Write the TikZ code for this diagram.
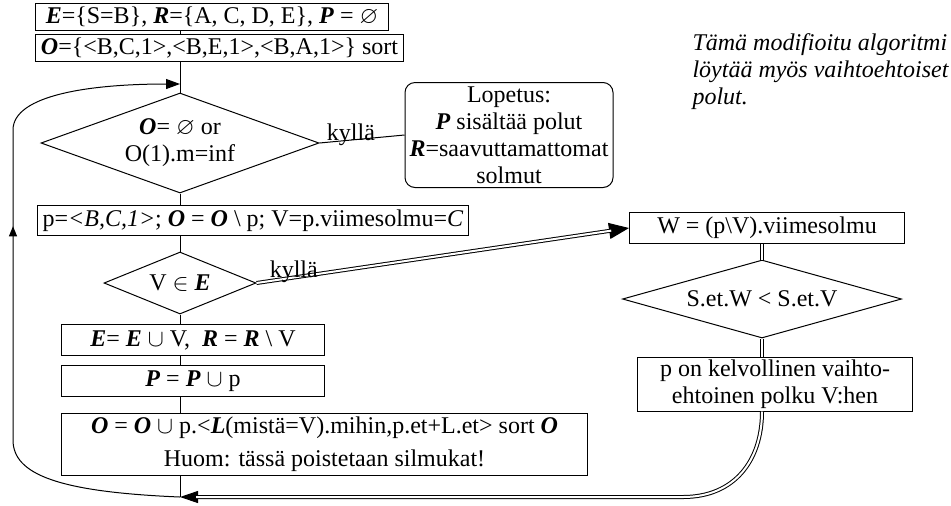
\documentclass[tikz,border=0pt]{standalone}
\usepackage{fontspec}
\usepackage{amssymb}
\setmainfont{Liberation Serif}
\usetikzlibrary{shapes.geometric, arrows.meta, positioning, calc, decorations.markings}
\newcommand{\bfit}[1]{\textbf{\textit{#1}}}

\begin{document}
\begin{tikzpicture}[x=0.5pt, y=-0.5pt, line width=0.5pt,
      font=\fontsize{12}{13.5}\selectfont,
      stepbox/.style={draw, inner sep=0pt, align=center, minimum height=13.5pt},
      choice/.style={draw, diamond, inner sep=0pt, align=center},
      dline/.style={double, double distance=1pt}]
    \useasboundingbox (0,0) rectangle (951,505);
    \coordinate (trunk) at (180,0);
    \coordinate (rtrunk) at (762,0);

    \node[stepbox, anchor=north west, minimum width=176.5pt] (ini) at (35,3)
      {\bfit{E}=\{S=B\}, \bfit{R}=\{A, C, D, E\}, \bfit{P} = $\varnothing$};
    \node[stepbox, minimum width=184pt, below=1.5pt of ini.south west, anchor=north west] (open)
      {\bfit{O}=\{<B,C,1>,<B,E,1>,<B,A,1>\} sort};
    \node[choice, aspect=2.78, minimum width=139pt, minimum height=50pt] (test1) at (180,143)
      {\bfit{O}= $\varnothing$ or\\O(1).m=inf};
    \node[stepbox, rounded corners=5pt, minimum width=104pt, minimum height=52.5pt] (stop) at (509,135)
      {Lopetus:\\\bfit{P} sisältää polut\\\bfit{R}=saavuttamattomat\\solmut};
    \node[stepbox, anchor=north west, minimum width=215.5pt, minimum height=15pt] (pick) at (37,205)
      {p=\textit{<B,C,1>}; \bfit{O} = \bfit{O} \textbackslash{} p; V=p.viimesolmu=\textit{C}};
    \node[choice, aspect=2.45, minimum width=76pt, minimum height=31pt] (test2) at (180,283)
      {V $\in$ \bfit{E}};
    \node[stepbox, anchor=north west, minimum width=131.5pt, minimum height=15.5pt] (addE) at (61,324)
      {\bfit{E}= \bfit{E} $\cup$ V,\ \ \bfit{R} = \bfit{R} \textbackslash{} V};
    \node[stepbox, minimum width=131.5pt, minimum height=15.5pt, below=4.5pt of addE.south west, anchor=north west] (addP)
      {\bfit{P} = \bfit{P} $\cup$ p};
    \node[stepbox, anchor=north west, minimum width=263pt, minimum height=31pt] (expand) at (61,413)
      {\bfit{O} = \bfit{O} $\cup$ p.<\bfit{L}(mistä=V).mihin,p.et+L.et> sort \bfit{O}\\[3pt]Huom: tässä poistetaan silmukat!};

    \node[stepbox, minimum width=137.5pt, minimum height=15.5pt] (last) at (767,228)
      {W = (p\textbackslash V).viimesolmu};
    \node[choice, aspect=3.58, minimum width=139.5pt, minimum height=39pt] (test3) at (762,299)
      {S.et.W < S.et.V};
    \node[stepbox, minimum width=137.5pt, minimum height=27pt] (valid) at (775,384)
      {p on kelvollinen vaihto-\\ehtoinen polku V:hen};
    \node[anchor=north west, inner sep=0pt, align=left, font=\fontsize{12}{13.5}\selectfont\itshape] (note) at (692,33)
      {Tämä modifioitu algoritmi\\löytää myös vaihtoehtoiset\\polut.};

    \coordinate (back) at (180,497);
    \coordinate (loopin) at (180,84);
    \draw (trunk |- ini.south) -- (trunk |- open.north);
    \draw (trunk |- open.south) -- (test1.north);
    \draw (test1.south) -- (trunk |- pick.north);
    \draw (trunk |- pick.south) -- (test2.north);
    \draw (test2.south) -- (trunk |- addE.north);
    \draw (trunk |- addE.south) -- (trunk |- addP.north);
    \draw (trunk |- addP.south) -- (trunk |- expand.north);
    \draw (trunk |- expand.south) -- (back);
    \draw (test1.east) -- node[anchor=base, pos=0.37] {kyllä} (stop.west);

    \draw[-{Triangle[length=7pt, width=5pt]}, postaction={decorate},
      decoration={markings, mark=at position 0.59 with {\arrow{Triangle[length=5pt, width=4pt]}}}]
      (back) .. controls (60,492) and (13,475) .. (13,440) -- (13,130)
      .. controls (13,95) and (90,84) .. (loopin);

    \draw[-{Triangle[length=10pt, width=8pt]}] (test2.east) -- (last.west);
    \draw[dline, shorten >=9pt] (test2.east) -- node[anchor=base, pos=0.1] {kyllä} (last.west);
    \draw[dline] (rtrunk |- last.south) -- (test3.north);
    \draw[dline] (test3.south) -- (rtrunk |- valid.north);
    \draw[-{Triangle[length=9pt, width=6pt]}] (rtrunk |- valid.south)
      .. controls (762,460) and (735,497) .. (683,497) -- (back);
    \draw[dline, shorten >=8pt] (rtrunk |- valid.south)
      .. controls (762,460) and (735,497) .. (683,497) -- (back);
\end{tikzpicture}
\end{document}
